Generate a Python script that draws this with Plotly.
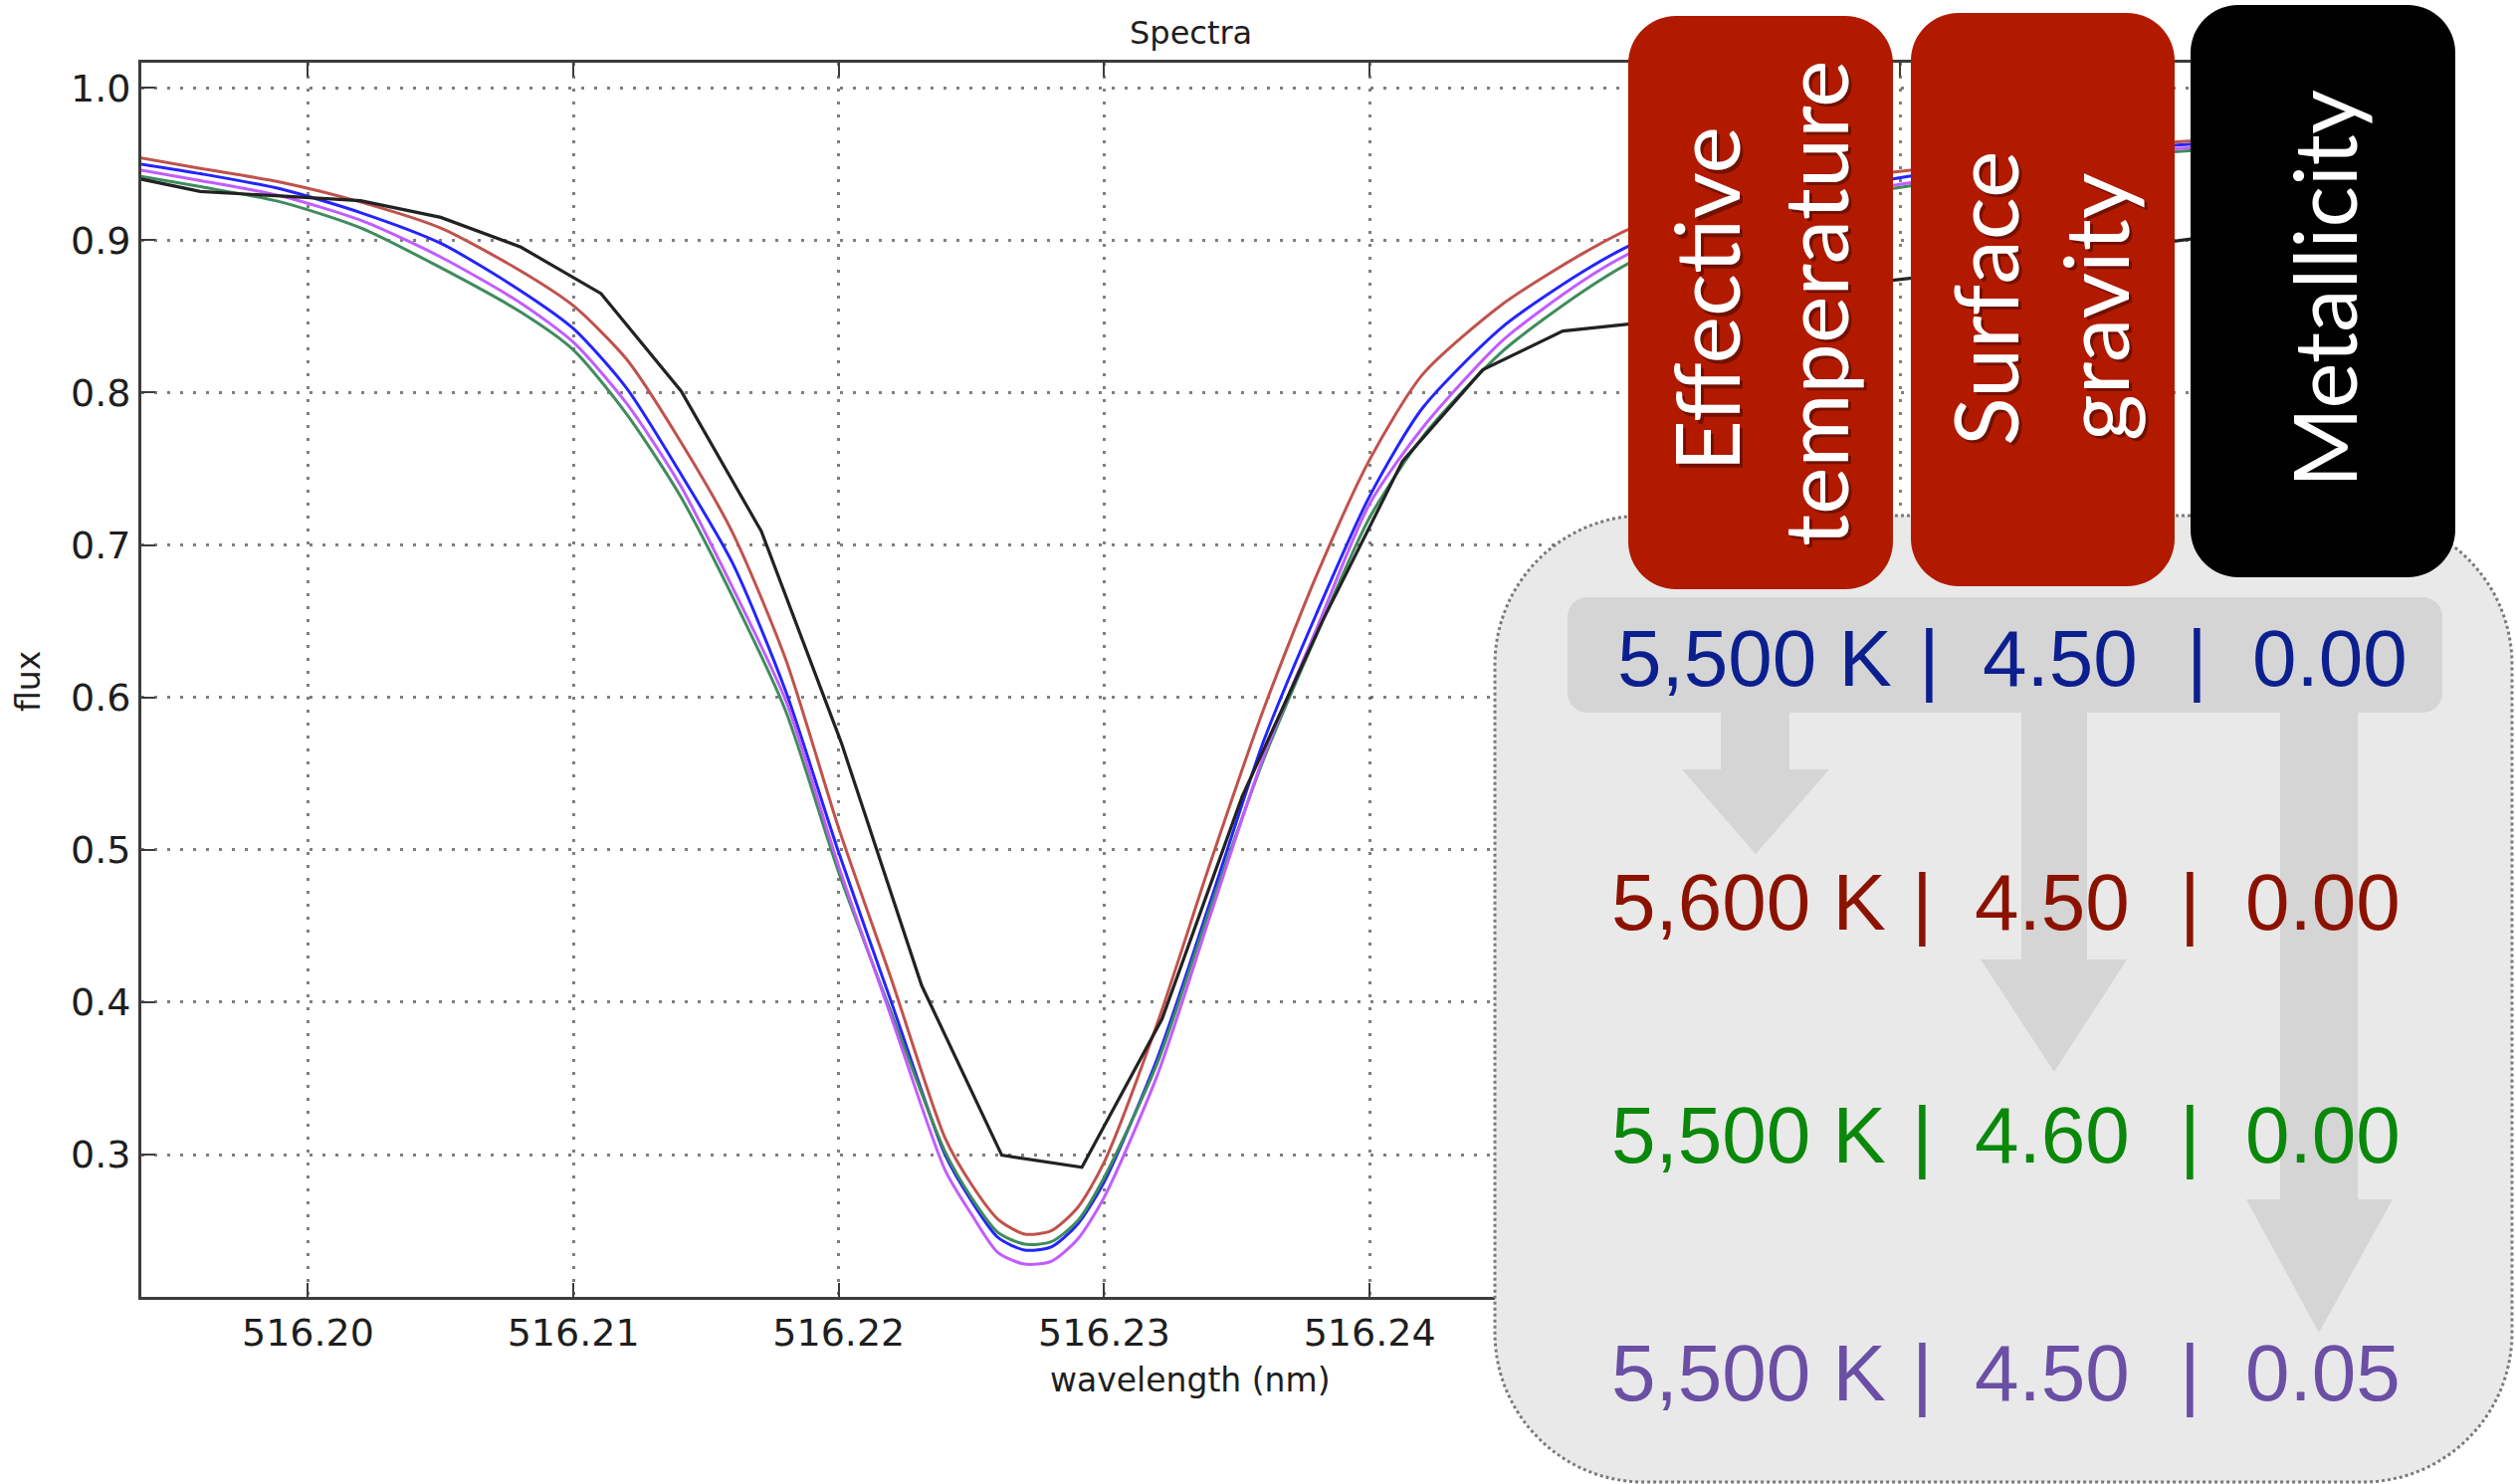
import plotly.graph_objects as go

W, H = 2528, 1491

# ---------------- data ----------------
wavelength = [516.1937, 516.1960, 516.1990, 516.2020, 516.2050, 516.2080, 516.2100, 516.2120,
              516.2140, 516.2160, 516.2180, 516.2200, 516.2220, 516.2240, 516.2250, 516.2260,
              516.2270, 516.2280, 516.2290, 516.2300, 516.2320, 516.2340, 516.2360, 516.2380,
              516.2400, 516.2420, 516.2450, 516.2480, 516.2500, 516.2540, 516.2580, 516.2620,
              516.2660, 516.2700, 516.2728]

# 5,500 K | 4.50 | 0.00  (blue)
flux_ref = [0.950, 0.9435, 0.9335, 0.918, 0.898, 0.867, 0.842, 0.803,
            0.748, 0.688, 0.604, 0.498, 0.399, 0.300, 0.2695, 0.2455,
            0.2373, 0.2393, 0.2543, 0.282, 0.363, 0.466, 0.571, 0.655,
            0.732, 0.790, 0.843, 0.879, 0.898, 0.921, 0.935, 0.9465,
            0.955, 0.962, 0.965]
# 5,600 K | 4.50 | 0.00  (red)
flux_teff = [0.954, 0.947, 0.938, 0.925, 0.908, 0.880, 0.857, 0.822,
             0.769, 0.708, 0.625, 0.514, 0.414, 0.311, 0.2804, 0.2575,
             0.2478, 0.2499, 0.2652, 0.295, 0.386, 0.4915, 0.592, 0.680,
             0.756, 0.812, 0.858, 0.891, 0.909, 0.929, 0.941, 0.949,
             0.957, 0.964, 0.967]
# 5,500 K | 4.60 | 0.00  (green)
flux_logg = [0.942, 0.935, 0.925, 0.908, 0.882, 0.853, 0.828, 0.786,
             0.733, 0.666, 0.591, 0.485, 0.392, 0.302, 0.2717, 0.2488,
             0.2412, 0.2427, 0.2565, 0.285, 0.360, 0.462, 0.559, 0.641,
             0.718, 0.771, 0.827, 0.866, 0.887, 0.913, 0.929, 0.940,
             0.950, 0.9575, 0.961]
# 5,500 K | 4.50 | 0.05  (violet)
flux_feh = [0.946, 0.939, 0.929, 0.913, 0.889, 0.859, 0.833, 0.793,
            0.740, 0.672, 0.598, 0.489, 0.389, 0.290, 0.2608, 0.2356,
            0.2281, 0.2299, 0.2445, 0.272, 0.352, 0.457, 0.561, 0.645,
            0.727, 0.777, 0.834, 0.873, 0.893, 0.916, 0.931, 0.942,
            0.952, 0.9595, 0.963]

# observed spectrum (black)
obs_wavelength = [516.19292, 516.19594, 516.19896, 516.20198, 516.20500, 516.20802, 516.21104,
                  516.21406, 516.21708, 516.22010, 516.22312, 516.22614, 516.22916, 516.23218,
                  516.23520, 516.23822, 516.24124, 516.24426, 516.24728, 516.25030, 516.25332,
                  516.25634, 516.25936, 516.26238, 516.26540, 516.26842, 516.27144, 516.27446]
obs_flux = [0.943, 0.932, 0.929, 0.926, 0.915, 0.8955, 0.865,
            0.801, 0.709, 0.570, 0.411, 0.2996, 0.2917, 0.389,
            0.535, 0.650, 0.755, 0.8149, 0.8404, 0.846, 0.855,
            0.865, 0.873, 0.879, 0.886, 0.895, 0.902, 0.906]

# tick labels 516.25 - 516.27 are hidden under the overlay in the picture
x_tick_vals = [516.20, 516.21, 516.22, 516.23, 516.24, 516.25, 516.26, 516.27]
x_tick_text = ["516.20", "516.21", "516.22", "516.23", "516.24", "", "", ""]
y_tick_vals = [0.3, 0.4, 0.5, 0.6, 0.7, 0.8, 0.9, 1.0]
y_tick_text = ["0.3", "0.4", "0.5", "0.6", "0.7", "0.8", "0.9", "1.0"]

param_rows = [["5,500 K", "4.50", "0.00"],
              ["5,600 K", "4.50", "0.00"],
              ["5,500 K", "4.60", "0.00"],
              ["5,500 K", "4.50", "0.05"]]
row_colors = ["#0c1f8f", "#8c1200", "#0a880a", "#6b4fa5"]
param_titles = [["Effective", "temperature"], ["Surface", "gravity"], ["Metallicity"]]
title_colors = ["#b21a00", "#b21a00", "#000000"]

# ---------------- helpers (pixel -> paper) ----------------
def px(x):
    return x / W


def py(y):
    return 1 - y / H


def rrect(x0, y0, x1, y1, r):
    k = 0.5523 * r
    p = lambda x, y: f"{px(x):.5f},{py(y):.5f}"
    return (f"M {p(x0 + r, y0)} L {p(x1 - r, y0)} "
            f"C {p(x1 - r + k, y0)} {p(x1, y0 + r - k)} {p(x1, y0 + r)} "
            f"L {p(x1, y1 - r)} "
            f"C {p(x1, y1 - r + k)} {p(x1 - r + k, y1)} {p(x1 - r, y1)} "
            f"L {p(x0 + r, y1)} "
            f"C {p(x0 + r - k, y1)} {p(x0, y1 - r + k)} {p(x0, y1 - r)} "
            f"L {p(x0, y0 + r)} "
            f"C {p(x0, y0 + r - k)} {p(x0 + r - k, y0)} {p(x0 + r, y0)} Z")


def arrow(sx0, sx1, top, neck, hx0, hx1, tipx, tipy):
    p = lambda x, y: f"{px(x):.5f},{py(y):.5f}"
    return (f"M {p(sx0, top)} L {p(sx1, top)} L {p(sx1, neck)} L {p(hx1, neck)} "
            f"L {p(tipx, tipy)} L {p(hx0, neck)} L {p(sx0, neck)} Z")


def label(text, x, y, size, color, family, angle=0):
    return dict(text=text, x=px(x), y=py(y), xref="paper", yref="paper",
                xanchor="center", yanchor="middle", textangle=angle, showarrow=False,
                borderpad=0, font=dict(family=family, size=size, color=color))


fig = go.Figure()

series = [
    (flux_ref, "#2424ff", "5,500 K | 4.50 | 0.00"),
    (flux_teff, "#c0524c", "5,600 K | 4.50 | 0.00"),
    (flux_logg, "#3f8c5c", "5,500 K | 4.60 | 0.00"),
    (flux_feh, "#c25cff", "5,500 K | 4.50 | 0.05"),
]
for ys, col, name in series:
    fig.add_trace(go.Scatter(x=wavelength, y=ys, mode="lines", name=name,
                             line=dict(color=col, width=3, shape="spline", smoothing=0.7)))
fig.add_trace(go.Scatter(x=obs_wavelength, y=obs_flux, mode="lines", name="observed",
                         line=dict(color="#222222", width=3.2)))

axis_common = dict(
    showline=True, linecolor="#3c3c3c", linewidth=3, mirror="ticks",
    ticks="inside", ticklen=14, tickwidth=2, tickcolor="#3c3c3c",
    showgrid=True, gridcolor="rgba(0,0,0,0.5)", gridwidth=2.5, griddash="3px,10px",
    zeroline=False, automargin=False,
    tickfont=dict(family="DejaVu Sans", size=38, color="#1e1e1e"),
)
fig.update_xaxes(domain=[142 / W, 2250 / W], range=[516.19372, 516.27277],
                 tickvals=x_tick_vals, ticktext=x_tick_text, **axis_common)
fig.update_yaxes(domain=[188 / H, (H - 62.7) / H], range=[0.2066, 1.0167],
                 tickvals=y_tick_vals, ticktext=y_tick_text, **axis_common)

shapes = []
# big rounded panel
shapes.append(dict(type="path", xref="paper", yref="paper", layer="above",
                   path=rrect(1502, 518, 2524, 1489, 150),
                   fillcolor="#e9e9e9", line=dict(color="#7a7a7a", width=3, dash="dot")))
# highlighted reference row
shapes.append(dict(type="path", xref="paper", yref="paper", layer="above",
                   path=rrect(1575, 600, 2454, 716, 20),
                   fillcolor="#d5d5d5", line=dict(width=0)))
# arrows
for a in [(1729, 1798, 712, 773, 1690, 1838, 1764, 858),
          (2031, 2097, 712, 964, 1990, 2137, 2064, 1077),
          (2291, 2369, 712, 1205, 2257, 2404, 2330, 1339)]:
    shapes.append(dict(type="path", xref="paper", yref="paper", layer="above",
                       path=arrow(*a), fillcolor="#d5d5d5", line=dict(width=0)))
# parameter boxes
for (x0, y0, x1, y1), col in zip([(1636, 16, 1902, 592), (1920, 13, 2185, 589), (2201, 5, 2467, 580)],
                                 title_colors):
    shapes.append(dict(type="path", xref="paper", yref="paper", layer="above",
                       path=rrect(x0, y0, x1, y1, 48), fillcolor=col, line=dict(width=0)))

annotations = []
# plot title and axis titles
annotations.append(label("Spectra", 1196, 33, 32, "#1e1e1e", "DejaVu Sans"))
annotations.append(label("wavelength (nm)", 1196, 1386, 33, "#1e1e1e", "DejaVu Sans"))
annotations.append(label("flux", 29, 685, 33, "#1e1e1e", "DejaVu Sans", -90))

# rotated box titles
title_pos = [[(1713, 301), (1822, 305)], [(1993, 300), (2104, 309)], [(2334, 290)]]
title_size = [[90, 90], [90, 90], [87]]
for words, poss, sizes in zip(param_titles, title_pos, title_size):
    for w, (xx, yy), sz in zip(words, poss, sizes):
        annotations.append(label(w, xx + 3, yy + 3, sz, "rgba(0,0,0,0.35)", "Lato", -90))
        annotations.append(label(w, xx, yy, sz, "#ffffff", "Lato", -90))

# parameter rows
row_y = [661, 906, 1140, 1379]
col_x_first = [1763, 1938, 2070, 2207, 2341]
col_x_other = [1757, 1931, 2062, 2200, 2334]
for i, (vals, col, yy) in enumerate(zip(param_rows, row_colors, row_y)):
    cx = col_x_first if i == 0 else col_x_other
    pieces = [vals[0], "|", vals[1], "|", vals[2]]
    for t, xx in zip(pieces, cx):
        annotations.append(label(t, xx, yy, 80, col, "Liberation Sans"))

fig.update_layout(width=W, height=H, margin=dict(l=0, r=0, t=0, b=0),
                  paper_bgcolor="white", plot_bgcolor="white", showlegend=False,
                  shapes=shapes, annotations=annotations)

fig.write_html("out.html")
